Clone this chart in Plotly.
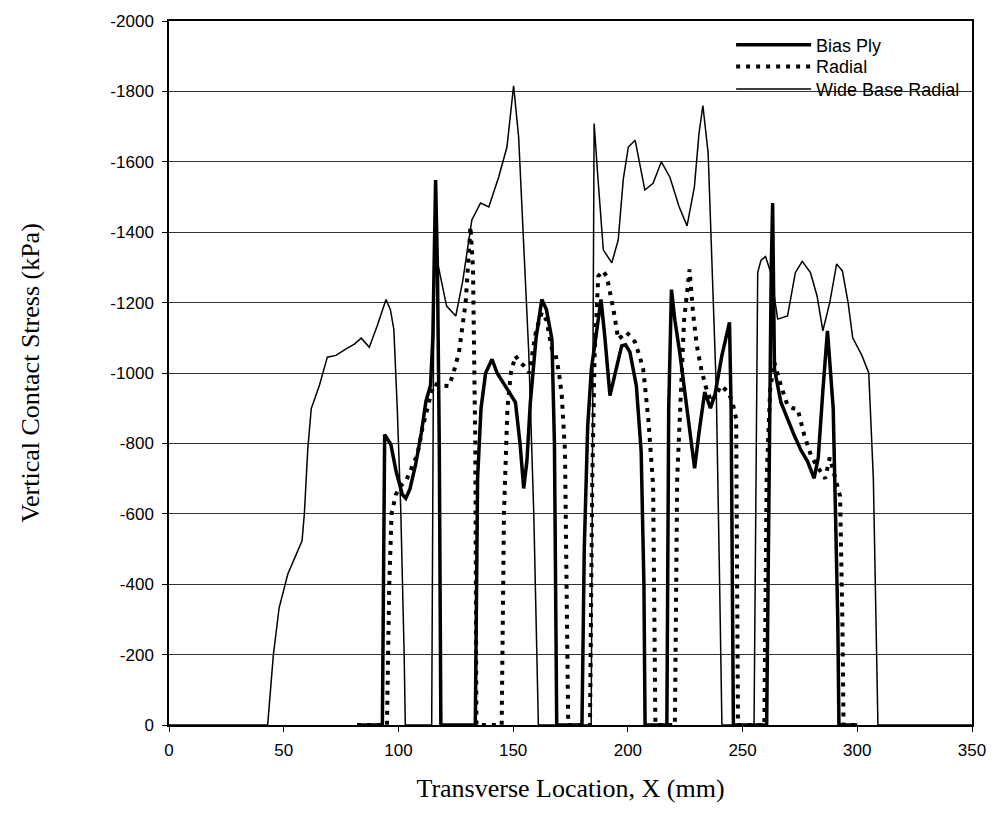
import plotly.graph_objects as go

# ---------------- data ----------------
bias_x = [82, 93, 94, 96.7, 99, 101.7, 103.2, 105, 107.5, 110, 112, 114, 115, 116.2, 117, 117.8, 118.5,
          133.5, 134.5, 136, 138, 140.8, 143, 146.6, 151, 153, 154.6, 156, 157.5, 160, 162.5, 164.5, 166.9, 168, 169,
          180, 181, 182.5, 184.1, 186, 188.3, 190, 192.2, 194.5, 197.3, 199, 200.9, 203.7, 205.8, 207, 207.5,
          217, 217.8, 219, 220.5, 222.6, 226.2, 229.1, 231, 233.5, 236, 238, 241, 244.3, 245, 246,
          260.5, 261.5, 262.5, 263.1, 263.9, 266.7, 269.5, 272.5, 275.5, 278.3, 281.2, 283, 285, 287, 289.5, 291.5, 292, 300]
bias_y = [0, 0, -825, -797, -720, -655, -644, -670, -740, -830, -920, -965, -1100, -1548, -1300, -800, 0,
          0, -700, -900, -1000, -1039, -1000, -964, -917, -800, -672, -750, -917, -1100, -1209, -1180, -1096, -800, 0,
          0, -500, -850, -1011, -1100, -1209, -1100, -936, -1000, -1077, -1080, -1059, -964, -777, -400, 0,
          0, -900, -1237, -1150, -1059, -870, -729, -830, -946, -900, -940, -1050, -1144, -900, 0,
          0, -700, -1300, -1483, -1011, -917, -870, -823, -780, -749, -701, -760, -950, -1120, -900, -300, 0, 0]

radial_x = [82, 95, 96, 97, 98.9, 101, 103.2, 105, 107.5, 109, 110.4, 113.3, 115.5, 118, 122, 124, 126.4, 129.3, 131.4, 132.5, 133.5, 134,
            145, 146, 147.5, 149, 151, 153, 154.6, 157, 160, 162.5, 164.5, 166.9, 168.3, 170, 171.2, 172.6, 174,
            183.5, 184.5, 185.5, 187.1, 189, 190.8, 193.7, 195.8, 197.5, 199.4, 201, 203.1, 205, 206.7, 208.9, 211, 212,
            220.5, 221.5, 223, 224.5, 226.9, 228.4, 230, 232, 234, 236.4, 238.5, 240.7, 243.6, 245.5, 247.2, 248,
            259.5, 260.5, 262, 263.8, 266.7, 269.6, 272, 274, 276.9, 279.8, 282, 284, 286, 288, 289.5, 291, 292.5, 293.5, 294, 300]
radial_y = [0, 0, -400, -600, -655, -680, -692, -720, -757, -790, -842, -917, -969, -965, -963, -1000, -1059, -1200, -1416, -1300, -800, 0,
            0, -600, -900, -1000, -1049, -1030, -1021, -1000, -1120, -1172, -1150, -1068, -1059, -1000, -936, -777, 0,
            0, -700, -1050, -1275, -1290, -1275, -1181, -1096, -1105, -1116, -1105, -1088, -1050, -1011, -870, -682, 0,
            0, -700, -950, -1150, -1294, -1172, -1080, -1011, -960, -917, -940, -964, -946, -920, -870, 0,
            0, -700, -950, -1031, -964, -908, -900, -898, -823, -766, -740, -720, -700, -760, -720, -680, -650, -300, 0, 0]

wide_x = [0, 43, 45.5, 48, 51.8, 55.4, 58, 59, 60.5, 62, 65.6, 69, 72.8, 77, 80.8, 83.8, 87.3, 90.8, 94.6, 96.5, 98, 99.5, 101, 102.5, 103,
          114.5, 115.5, 117.5, 121, 125, 128, 132, 135.8, 139.4, 143.7, 147.3, 150.2, 152.4, 154.6, 156.8, 159, 161,
          184, 185.3, 187, 189.3, 193, 195.8, 198, 200.2, 203.2, 205, 207.4, 211, 214.6, 218.3, 222.3, 225.8, 229, 231, 232.7, 235, 237, 238.5, 240, 241,
          255, 256.6, 258, 260, 262.3, 265.3, 269.6, 273, 276, 279.6, 282.5, 285, 288, 291, 293.5, 296, 298, 302, 305, 307, 309, 350]
wide_y = [0, 0, -200, -333, -429, -486, -523, -600, -785, -899, -966, -1045, -1050, -1068, -1082, -1099, -1073, -1135, -1209, -1180, -1124, -898, -616, -200, 0,
          0, -1340, -1300, -1190, -1162, -1260, -1435, -1483, -1472, -1557, -1642, -1816, -1670, -1342, -1059, -600, 0,
          0, -1709, -1550, -1350, -1313, -1378, -1550, -1642, -1661, -1600, -1520, -1539, -1600, -1557, -1473, -1418, -1529, -1680, -1760, -1624, -1247, -964, -400, 0,
          0, -1285, -1320, -1331, -1285, -1153, -1162, -1285, -1317, -1285, -1218, -1120, -1200, -1310, -1290, -1200, -1100, -1050, -1000, -700, 0, 0]

x_ticks = [0, 50, 100, 150, 200, 250, 300, 350]
y_ticks = [0, -200, -400, -600, -800, -1000, -1200, -1400, -1600, -1800, -2000]

# ---------------- figure ----------------
fig = go.Figure()
fig.add_trace(go.Scatter(x=bias_x, y=bias_y, mode="lines", name="Bias Ply",
                         line=dict(color="black", width=3.5), legend="legend"))
fig.add_trace(go.Scatter(x=radial_x, y=radial_y, mode="lines", name="Radial",
                         line=dict(color="black", width=4, dash="4px,6px"), legend="legend2"))
fig.add_trace(go.Scatter(x=wide_x, y=wide_y, mode="lines", name="Wide Base Radial",
                         line=dict(color="black", width=1.5), legend="legend3"))

tick_font = dict(family="Liberation Sans, Arial, sans-serif", size=17, color="black")
title_font = dict(family="Liberation Serif, Times New Roman, serif", size=26, color="black")
legend_font = dict(family="Liberation Sans, Arial, sans-serif", size=18, color="black")


def leg(yc):
    return dict(x=0.70, y=yc, xanchor="left", yanchor="middle",
                bgcolor="rgba(0,0,0,0)", borderwidth=0, font=legend_font,
                itemwidth=75, tracegroupgap=0)


fig.update_layout(
    width=998, height=833,
    margin=dict(l=169, r=23, t=17, b=108),
    paper_bgcolor="white", plot_bgcolor="white",
    showlegend=True,
    legend=leg(0.966),
    legend2=leg(0.935),
    legend3=leg(0.903),
    xaxis=dict(range=[0, 350], tickvals=x_ticks, ticktext=[str(v) for v in x_ticks],
               showgrid=False, zeroline=False,
               showline=True, linecolor="black", linewidth=1.5, mirror=True,
               ticks="outside", ticklen=5, tickcolor="black", tickfont=tick_font,
               ticklabelstandoff=4,
               title=dict(text="Transverse Location, X (mm)", font=title_font, standoff=20)),
    yaxis=dict(range=[0, -2000], tickvals=y_ticks, ticktext=[str(v) for v in y_ticks],
               showgrid=True, gridcolor="#333333", gridwidth=1, zeroline=False,
               showline=True, linecolor="black", linewidth=1.5, mirror=True,
               ticks="outside", ticklen=5, tickcolor="black", tickfont=tick_font,
               ticklabelstandoff=5,
               title=dict(text="Vertical Contact Stress (kPa)", font=title_font, standoff=63)),
)

fig.write_html("out.html")
